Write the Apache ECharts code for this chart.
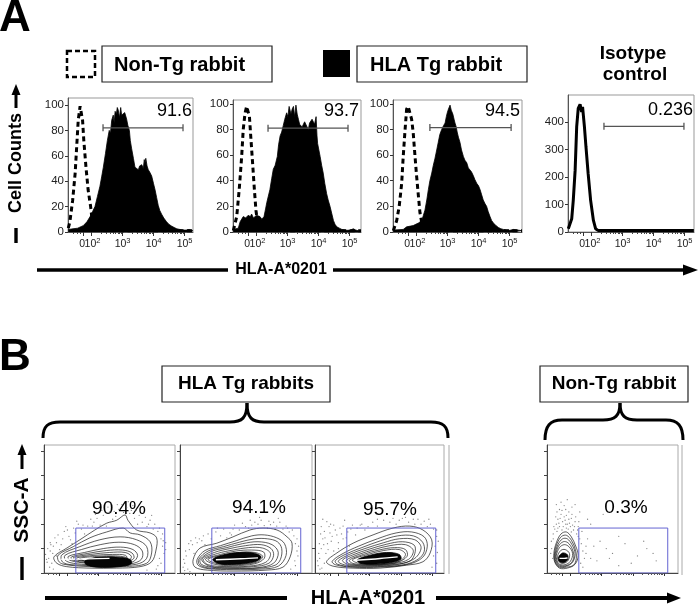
<!DOCTYPE html>
<html><head><meta charset="utf-8">
<script src="https://cdn.jsdelivr.net/npm/echarts@6/dist/echarts.min.js"></script>
<style>html,body{margin:0;padding:0;background:#fff}#c{width:699px;height:607px}</style>
</head><body><div id="c"></div>
<script>
const FONT = '"Liberation Sans", Arial, Helvetica, sans-serif';

// ---------------- Panel A data (x in log-decade display units, y = cell counts) ----------------
const gateLabelsA = ['91.6', '93.7', '94.5', '0.236'];
const nonTg1 = [[1.30,3],[1.35,8],[1.44,25],[1.52,46],[1.57,67],[1.62,88],[1.68,99],[1.71,99.5],[1.76,88],[1.80,72],[1.87,51],[1.94,33],[2.02,20],[2.08,7],[2.16,1.3],[2.6,1],[3.2,1],[3.8,1],[4.4,1],[5.0,1],[5.32,1]];
const tg1 = [[1.30,2],[1.45,2.5],[1.6,3],[1.78,5],[1.9,8],[2.0,12],[2.08,16],[2.16,20],[2.24,28],[2.32,36],[2.38,44],[2.43,51],[2.5,62],[2.56,72],[2.62,80],[2.66,78],[2.70,88],[2.75,92],[2.78,86],[2.81,95],[2.85,93],[2.88,98],[2.91,96],[2.95,90],[2.99,98],[3.02,92],[3.07,91],[3.12,94],[3.18,89],[3.22,84],[3.27,80],[3.30,72],[3.34,66],[3.40,58],[3.45,51],[3.50,50],[3.56,49],[3.60,52],[3.67,53],[3.72,50],[3.75,57],[3.77,54],[3.80,58],[3.84,52],[3.88,49],[3.93,47],[3.99,44],[4.05,38],[4.10,33],[4.15,27],[4.20,21],[4.25,17],[4.31,14],[4.38,11],[4.47,8],[4.55,6],[4.64,4.5],[4.72,3.5],[4.80,2.5],[4.9,2],[5.01,1.5],[5.10,1.5],[5.15,2.5],[5.2,2],[5.25,1],[5.32,1]];
const nonTg2 = [[1.30,1],[1.41,12],[1.49,33],[1.57,59],[1.62,80],[1.68,93],[1.73,98],[1.75,99],[1.82,90],[1.87,72],[1.93,51],[1.98,33],[2.03,17],[2.09,6],[2.16,1.3],[2.8,1],[3.6,1],[4.4,1],[5.1,1],[5.42,1]];
const tg2 = [[1.30,2],[1.46,3],[1.52,8],[1.62,12],[1.70,11],[1.78,13],[1.85,12],[1.89,14],[1.95,11],[2.0,12],[2.05,13],[2.11,14],[2.16,12],[2.22,10],[2.29,12],[2.34,18],[2.38,23],[2.43,28],[2.48,33],[2.54,42],[2.59,49],[2.65,52],[2.72,59],[2.76,68],[2.81,75],[2.86,78],[2.91,83],[2.96,88],[3.02,93],[3.06,90],[3.10,98],[3.16,92],[3.20,96],[3.24,98],[3.28,90],[3.32,99],[3.36,92],[3.40,88],[3.44,84],[3.47,85],[3.52,82],[3.56,83],[3.60,86],[3.64,87],[3.68,82],[3.72,80],[3.76,85],[3.80,84],[3.84,88],[3.88,89],[3.92,84],[3.97,90],[4.00,75],[4.02,69],[4.06,64],[4.10,59],[4.15,52],[4.20,46],[4.25,38],[4.31,30],[4.36,25],[4.42,20],[4.48,14],[4.53,9],[4.58,6],[4.64,4],[4.72,3],[4.80,2],[4.96,1.3],[5.08,1.5],[5.17,2.5],[5.25,1.5],[5.33,1],[5.42,1]];
const nonTg3 = [[1.30,1],[1.41,9],[1.49,20],[1.57,38],[1.62,59],[1.68,80],[1.73,96],[1.78,98],[1.84,97],[1.89,88],[1.94,78],[2.0,59],[2.05,44],[2.11,28],[2.16,15],[2.22,7],[2.27,1.3],[2.9,1],[3.7,1],[4.5,1],[5.2,1],[5.45,1]];
const tg3 = [[1.30,1.5],[1.35,2],[1.62,2],[1.73,4],[1.94,5],[2.11,7],[2.22,9],[2.27,13],[2.32,17],[2.38,25],[2.43,33],[2.48,40],[2.54,46],[2.59,52],[2.64,57],[2.70,64],[2.75,70],[2.80,76],[2.86,80],[2.92,83],[2.97,85],[3.01,90],[3.04,93],[3.08,96],[3.13,99],[3.17,95],[3.22,92],[3.26,88],[3.29,85],[3.33,82],[3.36,78],[3.40,74],[3.45,70],[3.50,64],[3.56,59],[3.61,56],[3.67,54],[3.72,50],[3.77,49],[3.82,47],[3.88,44],[3.93,41],[3.99,38],[4.05,36],[4.10,33],[4.15,29],[4.20,25],[4.26,22],[4.31,20],[4.36,16],[4.42,12],[4.47,9],[4.53,7],[4.61,5],[4.69,3.5],[4.77,2.5],[4.85,2],[4.95,1.5],[5.06,1.3],[5.12,2],[5.17,2],[5.22,1],[5.45,1]];
const isotype = [[1.30,12],[1.41,48],[1.46,115],[1.52,224],[1.57,382],[1.62,449],[1.68,464],[1.73,436],[1.76,455],[1.82,382],[1.87,309],[1.94,212],[2.02,115],[2.11,42],[2.18,12],[2.27,5],[3.0,5],[4.0,5],[5.0,5],[5.35,5]];
const gateBarsA = [[[2.42,82],[5.0,82]], [[2.42,81],[5.0,81]], [[2.48,81.5],[5.10,81.5]], [[2.45,384],[5.03,384]]];
const countTicks = [0,20,40,60,80,100];
const isoCountTicks = [0,100,200,300,400];
const zeroPos = [1.75];
const decadePos = [2.08, 3.05, 4.05, 5.05];
const decadeExp = ['2', '3', '4', '5'];
const majorTickPos = [1.78, 2.05, 3.05, 4.05, 5.05];
const minorPos = [1.45,1.6,1.7,2.35,2.53,2.65,2.75,2.83,2.9,2.95,3.0,3.35,3.53,3.65,3.75,3.83,3.9,3.95,4.0,4.35,4.53,4.65,4.75,4.83,4.9,4.95,5.0];

// ---------------- Panel B data (x = HLA-A*0201 decades, y = SSC-A in thousands) ----------------
const pctLabelsB = ['90.4%', '94.1%', '95.7%', '0.3%'];
const sscTicks = [0,50,100,150,200,250];
const gateB = [[2.32,0],[2.32,92],[5.17,92],[5.17,0],[2.32,0]];
const loops1 = [
  [[1.62,33],[2.03,51],[2.45,68],[2.93,88],[3.31,102],[3.63,108],[3.90,119],[3.99,108],[4.27,88],[4.70,82],[4.91,72],[4.89,47],[4.75,23],[4.38,13],[3.63,10],[2.77,10],[2.03,13],[1.71,20]],
  [[1.76,37],[2.24,54],[2.77,72],[3.31,84],[3.84,92],[4.06,82],[4.38,78],[4.70,64],[4.75,41],[4.59,20],[3.84,13],[2.77,13],[1.92,18],[1.76,25]],
  [[1.87,37],[2.45,54],[3.09,68],[3.74,74],[4.27,68],[4.59,54],[4.59,30],[4.27,18],[3.31,14],[2.45,16],[1.92,21]],
  [[1.97,36],[2.5,48],[3.1,58],[3.7,63],[4.2,58],[4.45,45],[4.42,28],[4.1,19],[3.3,16],[2.5,18],[2.02,24]],
  [[2.08,34],[2.6,42],[3.2,50],[3.75,53],[4.15,48],[4.3,36],[4.15,23],[3.5,19],[2.7,20],[2.13,26]],
  [[2.18,33],[2.7,40],[3.3,46],[3.82,47],[4.12,41],[4.18,30],[3.9,22],[3.4,20],[2.7,21],[2.2,27]],
  [[2.25,32],[2.8,38],[3.4,42],[3.9,42],[4.1,34],[4.0,25],[3.4,21],[2.7,23],[2.28,28]],
  [[2.35,31],[2.9,36],[3.5,38],[3.92,36],[3.95,27],[3.5,22],[2.8,24],[2.4,27]],
  [[2.45,30],[3.0,34],[3.6,35],[3.95,31],[3.8,24],[3.2,22],[2.6,25]]
];
const core1 = [[[2.62,25],[3.0,32],[3.6,33],[4.05,28],[4.1,19],[3.7,13],[3.0,12],[2.65,17]]];
const streak1 = [[1.85,28],[2.4,28.5],[3.0,29.5],[3.4,30]];
const dots1 = [[1.45,30],[1.5,45],[1.55,20],[1.6,55],[1.7,62],[1.8,48],[1.9,70],[2.1,75],[2.3,82],[2.5,90],[2.7,96],[2.9,104],[3.0,112],[3.2,118],[3.4,125],[3.5,110],[3.7,130],[3.85,124],[4.05,122],[4.2,112],[4.3,100],[4.45,104],[4.6,95],[4.8,90],[4.95,85],[5.05,70],[5.1,55],[5.0,30],[4.95,15],[5.15,40],[2.2,60],[1.48,12],[1.95,85],[3.3,96],[4.55,114],[3.1,98],[2.6,80],[4.1,128],[3.6,116],[4.7,108],[1.35,38],[1.65,72],[5.2,62],[2.0,95],[3.8,140],
  [1.4,22],[1.42,50],[1.5,62],[1.58,40],[1.75,78],[1.85,58],[2.05,88],[2.25,92],[2.4,100],[2.55,98],[2.8,110],[2.95,120],[3.15,128],[3.35,135],[3.55,126],[3.65,140],[3.95,134],[4.15,138],[4.35,118],[4.5,125],[4.65,100],[4.85,100],[5.0,92],[5.1,80],[5.2,48],[5.05,20],[4.9,8],[4.6,6],[1.6,8],[1.38,28],[2.35,106],[3.45,142],[4.0,146],[4.25,128],[1.52,58],[1.7,35],[4.75,118],[5.12,66],[2.15,68],[2.85,96]];
const loops2 = [
  [[1.72,27],[1.94,51],[2.48,61],[3.0,74],[3.54,88],[3.96,92],[4.41,88],[4.73,74],[4.89,61],[4.83,33],[4.60,12],[4.09,6],[3.0,4],[2.17,6],[1.78,12]],
  [[1.85,28],[2.1,46],[2.6,56],[3.1,66],[3.6,76],[4.0,78],[4.4,72],[4.65,60],[4.7,36],[4.45,14],[3.9,8],[3.0,7],[2.2,9],[1.88,16]],
  [[1.9,28],[2.2,45],[2.7,54],[3.2,63],[3.7,70],[4.1,70],[4.42,64],[4.56,50],[4.52,28],[4.35,16],[3.85,10],[3.0,9],[2.25,10],[1.93,17]],
  [[1.95,28],[2.3,44],[2.8,52],[3.3,60],[3.8,64],[4.25,58],[4.45,42],[4.3,20],[3.8,11],[3.0,10],[2.3,12],[1.98,18]],
  [[2.0,28],[2.4,42],[2.9,50],[3.4,56],[3.9,58],[4.22,50],[4.3,36],[4.15,20],[3.65,13],[2.9,12],[2.25,14]],
  [[2.05,28],[2.5,40],[3.0,47],[3.5,52],[3.95,51],[4.2,40],[4.05,22],[3.5,14],[2.8,13],[2.2,17]],
  [[2.12,28],[2.6,38],[3.1,45],[3.6,47],[3.98,43],[4.0,30],[3.7,19],[3.0,15],[2.4,18]],
  [[2.2,28],[2.7,37],[3.2,42],[3.7,42],[3.95,34],[3.75,22],[3.1,17],[2.5,19]]
];
const core2 = [[[2.35,28],[2.75,38],[3.2,42],[3.65,41],[3.9,33],[3.7,23],[3.1,18],[2.55,19]]];
const streak2 = [[2.45,27],[2.9,28],[3.5,30],[3.8,31]];
const dots2 = [[1.45,20],[1.5,35],[1.6,48],[1.7,58],[1.85,62],[2.0,66],[2.3,70],[2.6,76],[2.9,82],[3.2,88],[3.4,95],[3.6,98],[3.8,100],[4.0,97],[4.2,99],[4.4,96],[4.6,90],[4.8,84],[4.95,76],[5.0,60],[5.05,45],[4.98,25],[1.55,8],[1.4,12],[3.0,90],[3.7,104],[4.3,104],[2.1,58],[4.7,96],[3.5,92],[2.8,72],[4.1,92],[1.75,40],
  [1.42,28],[1.48,45],[1.58,60],[1.65,66],[1.8,72],[2.05,76],[2.2,80],[2.45,84],[2.7,90],[3.05,98],[3.3,102],[3.55,108],[3.9,108],[4.15,106],[4.5,104],[4.75,92],[4.9,88],[5.05,70],[5.1,55],[5.08,35],[5.0,15],[4.85,8],[1.45,5],[1.62,3],[2.5,92],[3.85,114],[4.45,112],[1.92,70],[4.35,90],[2.95,78]];
const loops3 = [
  [[1.67,23],[2.0,41],[2.52,61],[3.16,78],[3.80,92],[4.34,96],[4.76,88],[5.04,68],[4.99,41],[4.76,23],[4.24,16],[3.38,10],[2.52,10],[1.88,14]],
  [[1.85,24],[2.2,40],[2.7,55],[3.3,70],[3.9,82],[4.4,84],[4.8,74],[4.9,55],[4.75,32],[4.3,18],[3.4,12],[2.5,12],[1.95,17]],
  [[1.95,25],[2.3,39],[2.8,52],[3.4,66],[3.95,76],[4.45,76],[4.75,63],[4.8,44],[4.6,28],[4.15,17],[3.3,13],[2.45,13],[2.02,18]],
  [[2.05,25],[2.4,38],[2.9,50],[3.5,62],[4.0,70],[4.5,68],[4.7,52],[4.5,30],[4.0,18],[3.2,14],[2.4,15],[2.1,20]],
  [[2.18,26],[2.55,38],[3.05,49],[3.6,59],[4.1,64],[4.48,57],[4.5,40],[4.35,25],[3.9,18],[3.1,15],[2.4,17]],
  [[2.3,26],[2.7,38],[3.2,48],[3.7,56],[4.2,58],[4.45,46],[4.3,28],[3.8,19],[3.0,16],[2.4,19]],
  [[2.4,26],[2.85,38],[3.35,47],[3.85,52],[4.2,48],[4.25,34],[3.9,21],[3.2,17],[2.55,19]],
  [[2.5,27],[3.0,38],[3.5,46],[4.0,48],[4.2,38],[4.0,24],[3.4,18],[2.7,20]]
];
const core3 = [[[2.65,27],[3.1,37],[3.6,42],[4.0,38],[4.05,28],[3.7,21],[3.1,18],[2.75,20]]];
const streak3 = [[2.6,26],[3.1,28],[3.6,31],[3.95,33]];
const dots3 = [[1.45,30],[1.5,50],[1.55,70],[1.6,85],[1.7,60],[1.75,95],[1.85,75],[1.95,88],[2.05,62],[2.15,80],[2.3,72],[2.45,90],[2.6,78],[1.4,15],[1.52,10],[1.65,40],[1.8,100],[2.2,96],[2.9,88],[3.3,96],[3.7,104],[4.0,108],[4.3,104],[4.5,100],[4.7,100],[4.9,95],[5.1,90],[5.2,75],[5.15,55],[5.1,35],[4.6,110],[4.1,112],[3.9,100],[2.75,98],[2.4,55],[1.9,45],[5.2,20],
  [1.42,40],[1.44,60],[1.48,80],[1.5,95],[1.58,58],[1.62,72],[1.68,105],[1.72,48],[1.78,82],[1.82,65],[1.9,98],[2.0,78],[2.1,92],[2.2,70],[2.35,84],[2.5,98],[2.65,92],[2.8,100],[3.0,95],[3.15,104],[3.5,108],[3.8,112],[4.2,114],[4.45,110],[4.8,106],[5.0,100],[5.2,88],[5.25,65],[5.22,42],[5.05,12],[1.38,25],[1.46,8],[1.6,20],[2.25,108],[1.55,110],[2.05,50],[4.95,110],[3.3,110]];
const loops4 = [
  [[1.52,40],[1.6,62],[1.75,80],[1.92,84],[2.08,74],[2.22,55],[2.30,36],[2.2,18],[1.95,10],[1.7,10],[1.55,22]],
  [[1.54,39],[1.62,60],[1.77,75],[1.93,77],[2.09,66],[2.21,48],[2.24,30],[2.15,16],[1.93,12],[1.7,12],[1.56,23]],
  [[1.56,38],[1.65,58],[1.8,70],[1.95,70],[2.1,58],[2.2,40],[2.12,22],[1.92,14],[1.7,14],[1.58,24]],
  [[1.58,37],[1.67,55],[1.82,64],[1.97,62],[2.11,49],[2.16,33],[2.08,21],[1.9,15],[1.7,16],[1.6,25]],
  [[1.6,36],[1.7,52],[1.85,58],[2.0,54],[2.12,40],[2.05,24],[1.88,17],[1.7,18],[1.62,26]],
  [[1.64,34],[1.74,46],[1.88,48],[2.02,40],[1.98,26],[1.84,20],[1.7,22]]
];
const core4 = [[[1.67,32],[1.8,41],[1.96,37],[1.95,26],[1.8,21],[1.69,24]]];
const streak4 = [[1.7,30],[1.85,30],[1.96,31]];
const dots4 = [[1.55,90],[1.6,100],[1.65,110],[1.7,95],[1.75,120],[1.8,105],[1.85,115],[1.9,130],[1.95,100],[2.0,110],[2.05,95],[2.1,120],[2.15,88],[2.2,105],[2.25,80],[2.3,95],[2.35,70],[1.7,130],[1.85,138],[2.0,125],[1.62,85],[1.78,88],[1.92,92],[2.08,84],[2.4,60],[2.45,45],[2.5,30],[2.38,20],[2.6,70],[2.8,55],[3.0,65],[3.4,40],[3.8,60],[4.2,35],[4.5,50],[4.8,25],[3.6,15],[2.9,25],[1.5,70],[1.45,50],[1.48,30],[2.7,100],[2.2,140],[3.1,120],
  [1.5,80],[1.52,95],[1.58,115],[1.62,125],[1.68,102],[1.72,112],[1.78,128],[1.82,95],[1.88,108],[1.92,118],[1.98,90],[2.02,102],[2.08,112],[2.12,98],[2.18,95],[2.22,115],[2.28,88],[2.32,105],[1.75,145],[1.95,150],[2.1,135],[1.65,92],[1.9,100],[2.3,75],[2.42,85],[2.55,55],[2.55,40],[2.7,30],[3.2,50],[3.6,75],[4.0,20],[4.4,65],[4.7,40],[3.3,30],[2.45,12],[1.42,40],[1.44,65],[1.6,140],[2.35,125],[2.6,110]];

// ---------------- layout ----------------
const gridsA = [
  {left:68, top:98, width:125, height:134, ymax:105.5},
  {left:233, top:100, width:128, height:132, ymax:103},
  {left:393, top:100, width:129, height:132, ymax:103},
  {left:568, top:95, width:126, height:137, ymax:498}
];
const gridsB = [
  {left:44, top:445, width:131, height:128},
  {left:180, top:445, width:132, height:128},
  {left:315, top:445, width:129, height:128},
  {left:547, top:445, width:131, height:128}
];

const grid = [], xAxis = [], yAxis = [], series = [];
const lab = {fontFamily: FONT, color: '#222'};
const richLab = { n:Object.assign({fontSize:10.5, lineHeight:13, verticalAlign:'bottom'}, lab), s:Object.assign({fontSize:7.5, lineHeight:13, verticalAlign:'top'}, lab)};
const X_PER_GRID = 3;

gridsA.forEach((g, i) => {
  grid.push({left:g.left, top:g.top, width:g.width, height:g.height, show:true, borderColor:'#999', borderWidth:1, outerBoundsMode:'none', containLabel:false});
  const xmax = 1.29 + g.width / 31;
  xAxis.push({gridIndex:i, type:'value', position:'bottom', min:1.29, max:xmax,
    axisLine:{show:true, lineStyle:{color:'#555', width:1}}, splitLine:{show:false},
    axisTick:{show:true, customValues:majorTickPos, length:4, lineStyle:{color:'#333'}},
    axisLabel:{show:true, customValues:decadePos, margin:5, hideOverlap:false,
      formatter:(v) => { const k = decadePos.findIndex(p => Math.abs(p - v) < 1e-6); return '{n|10}{s|' + decadeExp[k] + '}'; },
      rich:richLab}});
  xAxis.push({gridIndex:i, type:'value', position:'bottom', min:1.29, max:xmax,
    axisLine:{show:false}, splitLine:{show:false}, axisLabel:{show:false},
    axisTick:{show:true, customValues:minorPos, length:2, lineStyle:{color:'#444'}}});
  xAxis.push({gridIndex:i, type:'value', position:'bottom', min:1.29, max:xmax,
    axisLine:{show:false}, splitLine:{show:false}, axisTick:{show:false},
    axisLabel:{show:true, customValues:zeroPos, margin:5, hideOverlap:false, formatter:() => '{n|0}', rich:richLab}});
  const ticks = i === 3 ? isoCountTicks : countTicks;
  yAxis.push({gridIndex:i, type:'value', min:0, max:g.ymax,
    axisLine:{show:true, lineStyle:{color:'#555'}}, splitLine:{show:false},
    axisTick:{show:true, customValues:ticks, length:3, lineStyle:{color:'#333'}},
    axisLabel:Object.assign({show:true, customValues:ticks, fontSize:11.5, margin:4, hideOverlap:false}, lab)});
});

gridsB.forEach((g, j) => {
  const i = j + 4;
  grid.push({left:g.left, top:g.top, width:g.width, height:g.height, show:true, borderColor:'#aaa', borderWidth:1, outerBoundsMode:'none', containLabel:false});
  const xmax = 1.3 + g.width / 31.2;
  xAxis.push({gridIndex:i, type:'value', position:'bottom', min:1.3, max:xmax,
    axisLine:{show:true, lineStyle:{color:'#444'}}, splitLine:{show:false}, axisLabel:{show:false},
    axisTick:{show:true, customValues:majorTickPos, length:3, lineStyle:{color:'#333'}}});
  xAxis.push({gridIndex:i, type:'value', position:'bottom', min:1.3, max:xmax,
    axisLine:{show:false}, splitLine:{show:false}, axisLabel:{show:false},
    axisTick:{show:true, customValues:minorPos, length:2, lineStyle:{color:'#555'}}});
  xAxis.push({gridIndex:i, type:'value', position:'bottom', min:1.3, max:xmax, show:false});
  yAxis.push({gridIndex:i, type:'value', min:0, max:262,
    axisLine:{show:true, lineStyle:{color:'#444'}}, splitLine:{show:false}, axisLabel:{show:false},
    axisTick:{show:true, customValues:sscTicks, length:3, lineStyle:{color:'#444'}}});
});

// Panel A series
const tgFills = [tg1, tg2, tg3];
const nonTgs = [nonTg1, nonTg2, nonTg3];
for (let i = 0; i < 3; i++) {
  series.push({type:'line', xAxisIndex:X_PER_GRID*i, yAxisIndex:i, data:tgFills[i], symbol:'none', z:2,
    lineStyle:{color:'#000', width:0.8}, areaStyle:{color:'#000', opacity:1}});
  series.push({type:'line', xAxisIndex:X_PER_GRID*i, yAxisIndex:i, data:nonTgs[i], symbol:'none', z:3,
    lineStyle:{color:'#000', width:3, type:[5,3.5]}});
}
series.push({type:'line', xAxisIndex:X_PER_GRID*3, yAxisIndex:3, data:isotype, symbol:'none', z:3,
  lineStyle:{color:'#000', width:3}});
gateBarsA.forEach((bar, i) => {
  series.push({type:'line', xAxisIndex:X_PER_GRID*i, yAxisIndex:i, data:bar, symbol:'rect', symbolSize:[1.3,7], z:4,
    lineStyle:{color:'#555', width:1.2}, itemStyle:{color:'#555'}});
});

// Panel B series
function polySeries(gi, polys, filled) {
  return {type:'custom', xAxisIndex:X_PER_GRID*gi, yAxisIndex:gi, clip:true, z: filled ? 4 : 3,
    data: polys.map(p => p[0]),
    renderItem: (params, api) => {
      const pts = polys[params.dataIndex].map(p => api.coord(p));
      return {type:'polygon', shape:{points:pts, smooth:0.35},
        style: filled ? {fill:'#050505', stroke:'#000', lineWidth:0.8} : {fill:'none', stroke:'#1a1a1a', lineWidth:0.7}};
    }};
}
const loopsB = [loops1, loops2, loops3, loops4];
const coresB = [core1, core2, core3, core4];
const streaksB = [streak1, streak2, streak3, streak4];
const dotsB = [dots1, dots2, dots3, dots4];
for (let j = 0; j < 4; j++) {
  const gi = j + 4;
  series.push({type:'scatter', xAxisIndex:X_PER_GRID*gi, yAxisIndex:gi, data:dotsB[j], symbolSize:1.3, z:2,
    itemStyle:{color:'#666'}});
  series.push(polySeries(gi, loopsB[j], false));
  series.push(polySeries(gi, coresB[j], true));
  series.push({type:'line', xAxisIndex:X_PER_GRID*gi, yAxisIndex:gi, data:streaksB[j], symbol:'none', z:5, smooth:true,
    lineStyle:{color:'#fff', width:1.4}});
  series.push({type:'line', xAxisIndex:X_PER_GRID*gi, yAxisIndex:gi, data:gateB, symbol:'none', z:6,
    lineStyle:{color:'#6464d2', width:1}});
}

// ---------------- decorations / text ----------------
function txt(x, y, text, font, align, rot) {
  return {type:'text', x:x, y:y, rotation:rot || 0, silent:true,
    style:{x:0, y:0, text:text, font:font, fill:'#000', align:align || 'center', verticalAlign:'middle', textAlign:align || 'center', textVerticalAlign:'middle'}};
}
function rect(x, y, w, h, fill, stroke, lw, dash) {
  return {type:'rect', silent:true, shape:{x:x, y:y, width:w, height:h},
    style:{fill:fill || 'none', stroke:stroke || null, lineWidth:lw || 0, lineDash:dash || null}};
}
function poly(points) {
  return {type:'polygon', silent:true, shape:{points:points}, style:{fill:'#000'}};
}
function bez(x1, y1, c1x, c1y, c2x, c2y, x2, y2) {
  return {type:'bezierCurve', silent:true, shape:{x1:x1, y1:y1, cpx1:c1x, cpy1:c1y, cpx2:c2x, cpy2:c2y, x2:x2, y2:y2},
    style:{fill:null, stroke:'#000', lineWidth:3}};
}
function seg(x1, y1, x2, y2, color, lw) {
  return {type:'line', silent:true, shape:{x1:x1, y1:y1, x2:x2, y2:y2}, style:{stroke:color || '#000', lineWidth:lw || 3}};
}
const B = 'bold ';
const graphic = [
  txt(-1, 19, 'A', B + '44px ' + FONT, 'left'),
  txt(-1, 358, 'B', B + '44px ' + FONT, 'left'),
  rect(67, 51, 28, 26, 'none', '#000', 2.5, [5, 3]),
  rect(102, 46, 170, 36, 'none', '#222', 1.2),
  txt(114, 65, 'Non-Tg rabbit', B + '20px ' + FONT, 'left'),
  rect(323, 50, 27, 27, '#000'),
  rect(357, 46, 170, 36, 'none', '#222', 1.2),
  txt(370, 65, 'HLA Tg rabbit', B + '20px ' + FONT, 'left'),
  txt(633, 54, 'Isotype', B + '19px ' + FONT),
  txt(635, 75, 'control', B + '19px ' + FONT),
  // Cell Counts axis title
  poly([[16,84],[11.5,95],[20.5,95]]), rect(14.5, 95, 3, 13, '#000'),
  txt(16, 163, 'Cell Counts', B + '18px ' + FONT, 'center', Math.PI / 2),
  rect(14.3, 228, 3.4, 15, '#000'),
  // HLA-A*0201 (A)
  rect(37, 268.3, 191, 3.5, '#000'),
  txt(281, 270, 'HLA-A*0201', B + '16px ' + FONT),
  rect(333, 268.3, 352, 3.5, '#000'), poly([[698,270],[683,264.5],[683,275.5]]),
  // gate labels A
  txt(192, 111, gateLabelsA[0], '18px ' + FONT, 'right'),
  txt(359, 111, gateLabelsA[1], '18px ' + FONT, 'right'),
  txt(520, 111, gateLabelsA[2], '18px ' + FONT, 'right'),
  txt(693, 110, gateLabelsA[3], '18px ' + FONT, 'right'),
  // B boxes and braces
  rect(162, 366, 168, 36, 'none', '#222', 1.2),
  txt(246, 384, 'HLA Tg rabbits', B + '19px ' + FONT),
  rect(540, 366, 148, 36, 'none', '#222', 1.2),
  txt(614, 384, 'Non-Tg rabbit', B + '19px ' + FONT),
  bez(43,438, 43,426, 48,422, 60,422), seg(60,422, 230,422),
  bez(230,422, 242,422, 247,418, 247,403), bez(247,403, 247,418, 252,422, 264,422),
  seg(264,422, 431,422), bez(431,422, 443,422, 448,426, 448,438),
  bez(545,440, 545,426, 550,420, 562,420), seg(562,420, 603,420),
  bez(603,420, 615,420, 620,416, 620,403), bez(620,403, 620,416, 625,420, 637,420),
  seg(637,420, 666,420), bez(666,420, 678,420, 683,426, 683,440),
  // extra right frame lines
  seg(449,445, 449,574, '#aaa', 1),
  seg(682,445, 682,575, '#aaa', 1),
  // B percentages
  txt(119, 509, pctLabelsB[0], '19px ' + FONT),
  txt(259, 508, pctLabelsB[1], '19px ' + FONT),
  txt(390, 510, pctLabelsB[2], '19px ' + FONT),
  txt(626, 508, pctLabelsB[3], '19px ' + FONT),
  // SSC-A axis title
  poly([[22,444],[17.5,455],[26.5,455]]), rect(20.5, 455, 3, 14, '#000'),
  txt(22, 510, 'SSC-A', B + '21px ' + FONT, 'center', Math.PI / 2),
  rect(20.3, 557, 3.4, 23, '#000'),
  // HLA-A*0201 (B)
  rect(45, 596, 242, 4, '#000'),
  txt(368, 598, 'HLA-A*0201', B + '20px ' + FONT),
  rect(436, 596, 234, 4, '#000'), poly([[681,598],[667,592.5],[667,603.5]])
];

const chart = echarts.init(document.getElementById('c'), null, {renderer:'canvas'});
chart.setOption({animation:false, backgroundColor:'#fff', grid, xAxis, yAxis, series, graphic});
</script></body></html>
